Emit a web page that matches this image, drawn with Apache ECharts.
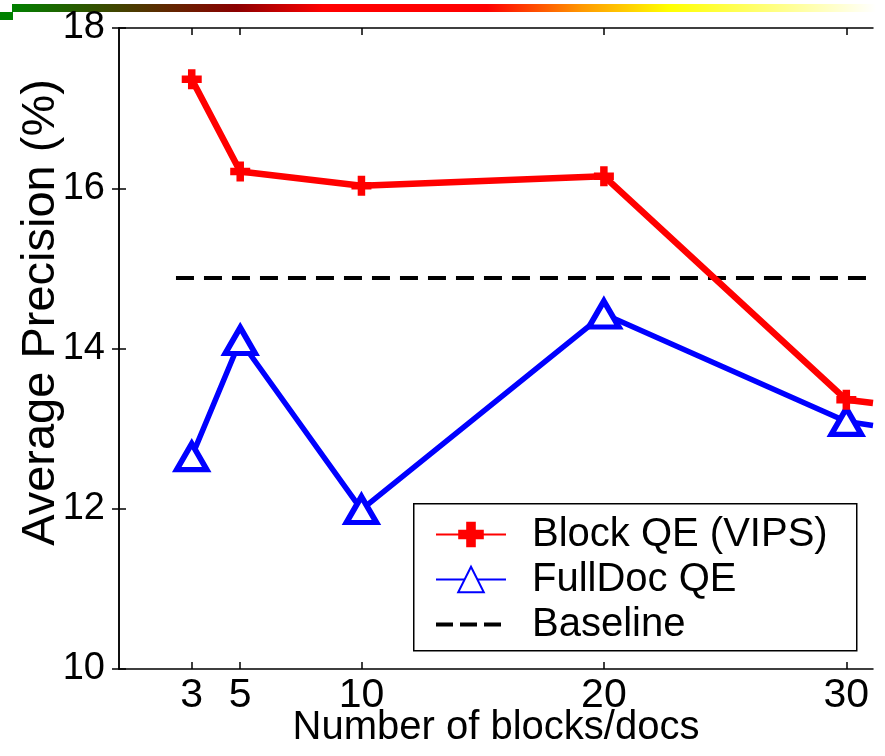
<!DOCTYPE html>
<html>
<head>
<meta charset="utf-8">
<script src="https://cdn.jsdelivr.net/npm/echarts@6/dist/echarts.min.js"></script>
<style>
  html, body { margin: 0; padding: 0; background: #fff; }
  #chart { width: 885px; height: 756px; }
</style>
</head>
<body>
<div id="chart"></div>
<script>
// x positions (number of blocks / docs)
var blocks = [3, 5, 10, 20, 30];
// average precision (%)
var blockQE = [17.36, 16.21, 16.03, 16.15, 13.36];
var fullDocQE = [12.65, 14.10, 11.99, 14.43, 13.09];
// where the lines leave the plot on the right
var xEnd = 31.1;
var blockQEEnd = 13.32;
var fullDocQEEnd = 13.04;
// baseline
var baselineX = [2.35, 31.1];
var baseline = 14.88;
var yTicks = [10, 12, 14, 16, 18];

var font = "'Liberation Sans', Arial, sans-serif";

function pts(vals, endVal) {
  var d = blocks.map(function (x, i) { return [x, vals[i]]; });
  d.push({ value: [xEnd, endVal], symbol: 'none' });
  return d;
}

// filled plus, like the matlab marker
var plusPath = 'path://M-3,-8 L3,-8 L3,-3 L8,-3 L8,3 L3,3 L3,8 L-3,8 L-3,3 L-8,3 L-8,-3 L-3,-3 Z';

var chart = echarts.init(document.getElementById('chart'));

var xAxisBase = {
  type: 'value',
  min: 0,
  max: xEnd,
  splitLine: { show: false },
  axisLine: { show: true, lineStyle: { color: '#000', width: 1.5 } },
  axisTick: { show: true, inside: true, length: 7, customValues: blocks, lineStyle: { color: '#000', width: 1.5 } }
};
var yAxisBase = {
  type: 'value',
  min: yTicks[0],
  max: yTicks[yTicks.length - 1],
  interval: 2,
  splitLine: { show: false },
  axisLine: { show: true, lineStyle: { color: '#000', width: 1.5 } },
  axisTick: { show: true, inside: true, length: 7, lineStyle: { color: '#000', width: 1.5 } }
};

var option = {
  animation: false,
  backgroundColor: '#fff',
  grid: { left: 119, right: 12, top: 28, bottom: 87, containLabel: false, outerBoundsMode: 'none' },
  graphic: [
    {
      type: 'rect', left: 12, top: 4, shape: { width: 864, height: 8 },
      style: {
        fill: new echarts.graphic.LinearGradient(0, 0, 1, 0, [
          { offset: 0, color: '#008000' },
          { offset: 0.26, color: '#8b0000' },
          { offset: 0.36, color: '#ff0000' },
          { offset: 0.55, color: '#ff0000' },
          { offset: 0.66, color: '#ff9900' },
          { offset: 0.76, color: '#ffff00' },
          { offset: 1, color: '#ffffff' }
        ])
      }
    },
    { type: 'rect', left: 0, top: 12, shape: { width: 13, height: 8 }, style: { fill: '#008000' } },
    {
      type: 'rect', left: 413, top: 503, z: 5,
      shape: { width: 443, height: 147 },
      style: { fill: '#fff', stroke: '#000', lineWidth: 1.5 }
    }
  ],
  legend: {
    orient: 'vertical',
    left: 434,
    top: 512,
    padding: 0,
    itemGap: 0,
    itemWidth: 70,
    itemHeight: 32,
    z: 10,
    textStyle: { fontFamily: font, fontSize: 40, color: '#000', lineHeight: 45, padding: [0, 0, 0, 21] },
    data: [
      { name: 'Block QE (VIPS)' },
      { name: 'FullDoc QE' },
      { name: 'Baseline', itemStyle: { opacity: 0 }, lineStyle: { type: [17, 7], width: 4 } }
    ]
  },
  xAxis: [
    Object.assign({}, xAxisBase, {
      position: 'bottom',
      name: 'Number of blocks/docs',
      nameLocation: 'middle',
      nameGap: 39,
      nameMoveOverlap: false,
      nameTextStyle: { fontFamily: font, fontSize: 40, color: '#000' },
      axisLabel: { customValues: blocks, margin: 6, fontFamily: font, fontSize: 41, color: '#000' }
    }),
    Object.assign({}, xAxisBase, { position: 'top', axisLabel: { show: false } })
  ],
  yAxis: [
    Object.assign({}, yAxisBase, {
      position: 'left',
      name: 'Average Precision (%)',
      nameLocation: 'middle',
      nameGap: 54,
      nameMoveOverlap: false,
      nameTextStyle: { fontFamily: font, fontSize: 47, color: '#000', padding: [0, 0, 0, 72] },
      axisLabel: { margin: 14, fontFamily: font, fontSize: 38, color: '#000' }
    }),
    Object.assign({}, yAxisBase, { position: 'right', axisLabel: { show: false } })
  ],
  series: [
    {
      name: 'Baseline',
      type: 'line',
      symbol: 'none',
      data: baselineX.map(function (x) { return [x, baseline]; }),
      lineStyle: { color: '#000', width: 4, type: [18, 10] },
      itemStyle: { color: '#000' },
      z: 2
    },
    {
      name: 'FullDoc QE',
      type: 'line',
      data: pts(fullDocQE, fullDocQEEnd),
      symbol: 'triangle',
      symbolSize: [30, 26],
      lineStyle: { color: '#0000ff', width: 5.5 },
      itemStyle: { color: '#fff', borderColor: '#0000ff', borderWidth: 5.5 },
      z: 3
    },
    {
      name: 'Block QE (VIPS)',
      type: 'line',
      data: pts(blockQE, blockQEEnd),
      symbol: plusPath,
      symbolSize: 20,
      lineStyle: { color: '#ff0000', width: 6.5 },
      itemStyle: { color: '#ff0000' },
      z: 4
    }
  ]
};

chart.setOption(option);
</script>
</body>
</html>
